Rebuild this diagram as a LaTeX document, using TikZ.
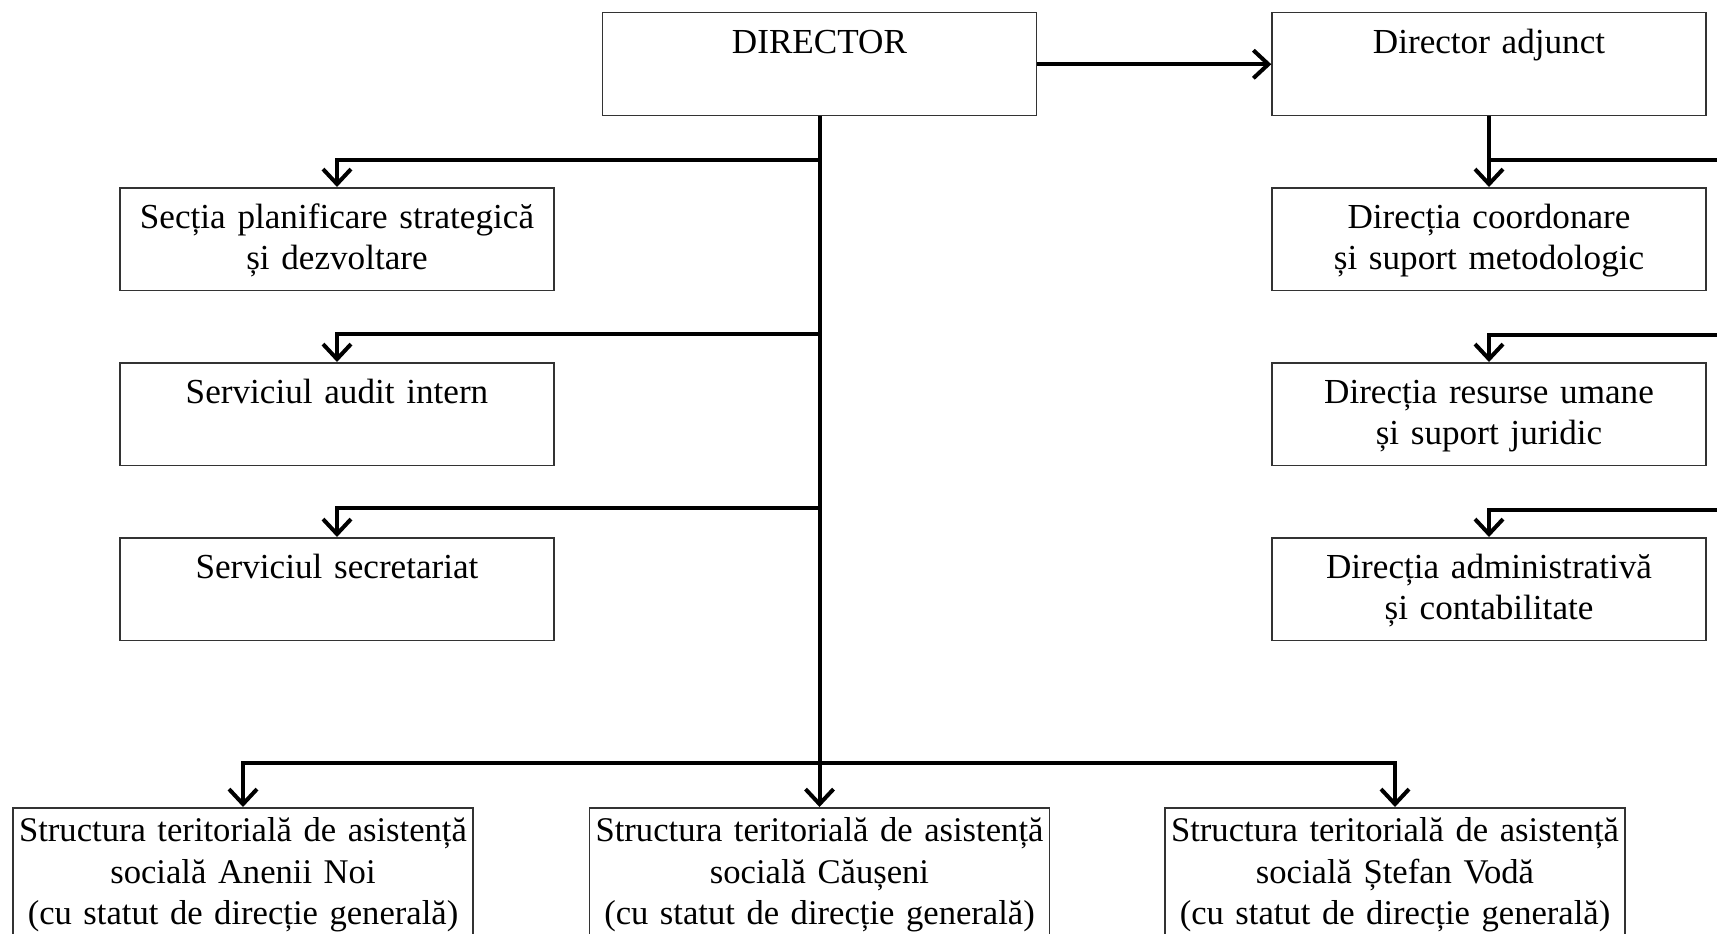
\documentclass[tikz,border=0pt]{standalone}
\usepackage{fontspec}
\setmainfont{Liberation Serif}
\usetikzlibrary{arrows.meta}
\begin{document}
\begin{tikzpicture}[x=0.02cm, y=-0.02cm]

% definitions
\tikzstyle{box} = [rectangle, anchor=north, inner xsep=0.14cm, inner ysep=0cm, text width=8.4cm, text height=0.82cm, text depth=1.24cm, text centered, draw=black!80, line width=0.03cm, font=\fontsize{20}{23.3}\selectfont]
\tikzstyle{unitbox} = [box, inner xsep=0cm, text width=9.2cm, text height=0.68cm, text depth=2.6cm, font=\fontsize{19.7}{23.6}\selectfont]

\tikzstyle{arrow} = [-{Straight Barb[length=0.3cm,width=0.56cm]}, line width=0.08cm]
\tikzstyle{trunk} = [line width=0.08cm]

\useasboundingbox (0,0) rectangle (1717,933);
\clip (0,0) rectangle (1717,933);

% the graph
\node (dir) [box] at (819.5,12) {DIRECTOR};
\node (adj) [box] at (1489,12) {Director adjunct};

\node (sec) [box] at (337,187) {Secția planificare strategică\\ și dezvoltare};
\node (audit) [box] at (337,362) {Serviciul audit intern};
\node (secr) [box] at (337,537) {Serviciul secretariat};

\node (coord) [box] at (1489,187) {Direcția coordonare\\ și suport metodologic};
\node (hr) [box] at (1489,362) {Direcția resurse umane\\ și suport juridic};
\node (admin) [box] at (1489,537) {Direcția administrativă\\ și contabilitate};

\node (aneni) [unitbox] at (243,807) {Structura teritorială de asistență\\ socială Anenii Noi\\ (cu statut de direcție generală)};
\node (causeni) [unitbox] at (819.5,807) {Structura teritorială de asistență\\ socială Căușeni\\ (cu statut de direcție generală)};
\node (stefan) [unitbox] at (1395,807) {Structura teritorială de asistență\\ socială Ștefan Vodă\\ (cu statut de direcție generală)};

% junctions
\coordinate (j1) at (819.5,160);
\coordinate (j2) at (819.5,334);
\coordinate (j3) at (819.5,508);
\coordinate (bus) at (819.5,763);
\coordinate (r1) at (1760,160);
\coordinate (r2) at (1760,335);
\coordinate (r3) at (1760,510);

\draw [arrow] (dir) -- (adj);
\draw [arrow] (dir.south) -- (causeni.north);

\draw [arrow] (j1) -| (sec.north);
\draw [arrow] (j2) -| (audit.north);
\draw [arrow] (j3) -| (secr.north);

\draw [arrow] (bus) -| (aneni.north);
\draw [arrow] (bus) -| (stefan.north);

\draw [arrow] (adj) -- (coord);
\draw [trunk] (adj.south |- r1) -- (r1) -- (r3);
\draw [arrow] (r2) -| (hr.north);
\draw [arrow] (r3) -| (admin.north);

\end{tikzpicture}
\end{document}
